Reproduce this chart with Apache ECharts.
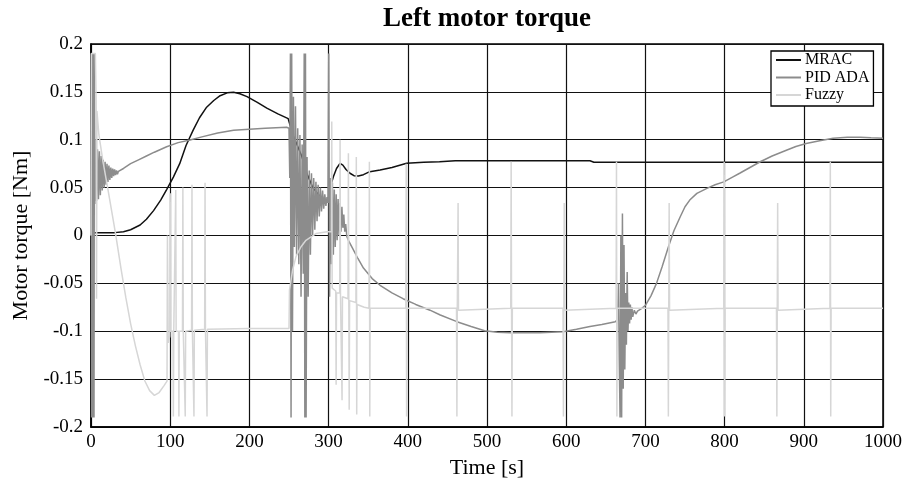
<!DOCTYPE html>
<html>
<head>
<meta charset="utf-8">
<script src="https://cdn.jsdelivr.net/npm/echarts@6/dist/echarts.min.js"></script>
<style>html,body{margin:0;padding:0;background:#fff;}#chart{width:915px;height:478px;}</style>
</head>
<body>
<div id="chart"></div>
<script>
const seriesNames = ['MRAC', 'PID ADA', 'Fuzzy'];

const mracData = [
[0,0.018],[0.8,-0.006],[1.5,0.003],[10,0.003],[30,0.003],[41,0.004],[50,0.006],[62,0.011],[70,0.017],[79,0.026],[88,0.037],[95.5,0.048],[104,0.061],[112,0.075],[120,0.094],[129,0.11],[137,0.123],[146,0.134],[155,0.141],[163,0.146],[172,0.149],[180,0.1495],[188,0.148],[197,0.145],[210,0.139],[222,0.133],[236,0.127],[249,0.122],[250,0.121],[255,0.105],[260,0.095],[266,0.083],[272,0.066],[280,0.05],[290,0.04],[299,0.035],[300.5,0.034],[302,0.05],[306,0.0614],[310,0.07],[314.4,0.0754],[318,0.0735],[322,0.069],[327,0.065],[332,0.0625],[337.5,0.0621],[344,0.0635],[352,0.0667],[365,0.0684],[380,0.071],[398.6,0.0754],[420,0.0765],[440,0.077],[460,0.078],[630,0.078],[635,0.0765],[1000,0.0765]
];

const pidData = [
[0,0.0],[0.4,0.19],[0.8,-0.19],[1.3,0.19],[1.8,-0.19],[2.3,0.19],[2.8,-0.19],[3.3,0.19],[3.8,-0.19],[4.3,0.19],[5,0.033],[6,0.1],[7,0.036],[8.2,0.09],[9.4,0.038],[10.6,0.088],[11.8,0.042],[13,0.083],[14.2,0.047],[15.4,0.079],[16.6,0.05],[17.8,0.077],[19,0.053],[20.2,0.075],[21.4,0.056],[22.6,0.073],[23.8,0.058],[25,0.071],[26.2,0.06],[27.4,0.07],[28.6,0.062],[29.8,0.069],[31,0.063],[32.2,0.068],[33.4,0.064],[34.6,0.067],[36,0.067],[41,0.07],[50,0.075],[60,0.079],[70,0.083],[80,0.087],[95.5,0.0927],[110,0.097],[125,0.0997],[140,0.103],[160,0.107],[180,0.11],[200,0.111],[220,0.112],[247,0.113],[250,0.112],
[251,0.06],[251.8,0.19],[252.6,-0.19],[253.4,0.19],[254.4,-0.1],[255.6,0.145],[256.8,-0.012],[258.2,0.135],[259.6,-0.02],[261,0.112],[262.4,-0.03],[263.8,0.105],[265.2,-0.064],[266.6,0.095],[268,-0.04],[269.2,0.19],[270,-0.19],[270.8,0.19],[271.6,-0.19],[272.8,0.082],[274.2,-0.064],[275.6,0.068],[277,-0.02],[278.4,0.065],[279.8,0.0],[281.2,0.06],[282.6,0.006],[284,0.056],[285.4,0.015],[286.8,0.053],[288.2,0.02],[289.6,0.05],[291,0.025],[292.4,0.047],[293.8,0.028],[295.2,0.043],[296.6,0.031],[298,0.04],[299.2,0.034],
[300.2,0.19],[301.2,-0.064],[302.4,0.06],[303.6,-0.03],[304.8,0.055],[306,-0.02],[307.2,0.048],[308.4,-0.012],[309.6,0.043],[310.8,-0.005],[312,0.038],[313.2,0.0],[314.4,0.034],[315.6,0.004],[316.8,0.03],[318,0.008],[319.2,0.022],[320.4,0.004],[321.6,0.012],[323,-0.001],[325,-0.005],[330,-0.013],[337,-0.024],[344,-0.034],[355,-0.045],[365,-0.052],[380,-0.06],[394,-0.066],[410,-0.072],[428,-0.078],[441,-0.083],[462,-0.09],[480,-0.095],[497,-0.0994],[513,-0.101],[529,-0.1015],[567,-0.1015],[596,-0.1005],[613,-0.098],[630,-0.095],[645,-0.093],[662,-0.09],
[665,-0.088],[666,-0.05],[667,-0.13],[668,-0.19],[669,0.0],[670,-0.19],[671,0.023],[672,-0.16],[673,-0.01],[674,-0.14],[675,-0.06],[676,-0.114],[677,-0.038],[678,-0.1],[679,-0.07],[680,-0.092],[681,-0.072],[682,-0.088],[683,-0.075],[684,-0.085],[686,-0.078],[688,-0.082],[690,-0.079],[694,-0.077],[697,-0.075],[700,-0.073],[707,-0.063],[714,-0.05],[721,-0.033],[729,-0.012],[736,0.005],[744,0.0196],[750,0.03],[756,0.037],[765,0.044],[777,0.049],[788,0.053],[799,0.056],[810,0.061],[819,0.065],[832,0.071],[845,0.077],[860,0.083],[878,0.089],[890,0.093],[903,0.096],[920,0.099],[937,0.1015],[955,0.1025],[971,0.1025],[985,0.102],[1000,0.1015]
];

const fuzzyData = [
[0,0.0],[0.5,0.19],[5.5,0.19],[6.5,0.14],[7,-0.066],[7.5,0.13],[10,0.105],[15,0.078],[21,0.05],[26,0.026],[31,0.002],[38,-0.035],[44,-0.065],[50,-0.092],[56,-0.115],[62,-0.135],[68,-0.152],[74,-0.162],[80,-0.167],[86,-0.164],[92,-0.157],[96,-0.152],
[96.5,0.0],[97.5,-0.112],[99.5,-0.105],[100,0.044],[100.5,-0.1],[103.5,-0.1],[104,-0.189],[104.5,-0.1],[106.5,-0.1],[107,0.0475],[107.5,-0.1],[110.5,-0.1],[111,-0.189],[111.5,-0.1],[115.5,-0.1],[116,0.05],[116.5,-0.1],[118.5,-0.1],[119,-0.189],[119.5,-0.1],[127,-0.099],[127.5,0.053],[128,-0.099],[129.5,-0.099],[130,-0.189],[130.5,-0.099],[143.5,-0.098],[144,0.055],[144.5,-0.098],[146,-0.098],[146.5,-0.189],[147,-0.098],[200,-0.097],[250,-0.097],
[250.6,-0.057],[254.6,-0.036],[258.8,-0.022],[265,-0.012],[271.4,-0.005],[284,0.002],[298,0.004],[303.5,0.004],[304,0.119],[304.5,-0.055],[309,-0.058],[309.5,-0.156],[310,-0.06],[314,-0.06],[314.5,0.1],[315,-0.062],[316.5,-0.062],[317,-0.172],[317.5,-0.064],[324.5,-0.066],[325,0.086],[325.5,-0.067],[326,-0.182],[326.5,-0.068],[334.5,-0.07],[335,0.082],[335.5,-0.187],[336,-0.072],[345,-0.075],[351,-0.076],[351.5,0.077],[352,-0.189],[352.5,-0.076],
[397.5,-0.076],[398,0.075],[398.5,-0.189],[399,-0.076],
[461.5,-0.076],[462,-0.189],[462.5,-0.076],[463.5,0.034],[464,-0.078],[465,-0.076],
[530,-0.076],[530.5,0.077],[531,-0.076],[531.5,-0.189],[532,-0.076],
[596,-0.076],[596.5,-0.189],[597,-0.076],[597.5,0.034],[598,-0.078],[599,-0.076],
[663,-0.076],[663.5,0.077],[664,-0.189],[664.5,-0.076],
[728.5,-0.076],[729,-0.189],[729.5,-0.076],[730,0.034],[730.5,-0.078],[731.5,-0.076],
[799,-0.076],[799.5,0.077],[800,-0.189],[800.5,-0.076],
[865.5,-0.076],[866,-0.189],[866.5,-0.076],[867,0.034],[867.5,-0.078],[868.5,-0.076],
[933,-0.076],[933.5,0.077],[934,-0.189],[934.5,-0.076],
[1000,-0.076]
];

const xTicks = {min: 0, max: 1000, interval: 100};
const yTicks = {min: -0.2, max: 0.2, interval: 0.05};

const font = 'Liberation Serif';
const chart = echarts.init(document.getElementById('chart'), null, {renderer: 'canvas'});
chart.setOption({
  animation: false,
  backgroundColor: '#fff',
  title: {
    text: 'Left motor torque',
    left: 487, top: 6, textAlign: 'center', padding: 0,
    textStyle: {fontFamily: font, fontSize: 27, fontWeight: 'bold', color: '#000'}
  },
  legend: {
    data: seriesNames,
    orient: 'vertical',
    left: 771, top: 51,
    padding: [1, 4, 3, 5],
    itemGap: 1.5,
    itemWidth: 25, itemHeight: 2,
    itemStyle: {borderWidth: 0},
    icon: 'rect',
    backgroundColor: '#fff',
    borderColor: '#000', borderWidth: 1.3,
    textStyle: {fontFamily: font, fontSize: 16, color: '#000', lineHeight: 16, padding: [0,0,0,-1]}
  },
  grid: {left: 91, right: 32, top: 44, bottom: 51, outerBoundsMode: 'none', containLabel: false, show: true, borderColor: '#000', borderWidth: 1.5, backgroundColor: 'transparent'},
  xAxis: {
    type: 'value', min: xTicks.min, max: xTicks.max, interval: xTicks.interval,
    name: 'Time [s]', nameLocation: 'middle', nameGap: 27,
    nameTextStyle: {fontFamily: font, fontSize: 22, color: '#000'},
    axisLine: {show: true, onZero: false, lineStyle: {color: '#000', width: 1.5}},
    axisTick: {show: false},
    axisLabel: {fontFamily: font, fontSize: 19, color: '#000', margin: 6,
      formatter: v => String(Math.round(v))},
    splitLine: {show: true, lineStyle: {color: '#111', width: 1.2}}
  },
  yAxis: {
    type: 'value', min: yTicks.min, max: yTicks.max, interval: yTicks.interval,
    name: 'Motor torque [Nm]', nameLocation: 'middle', nameGap: 56,
    nameTextStyle: {fontFamily: font, fontSize: 22, color: '#000'},
    axisLine: {show: true, onZero: false, lineStyle: {color: '#000', width: 1.5}},
    axisTick: {show: false},
    axisLabel: {fontFamily: font, fontSize: 19, color: '#000', margin: 8,
      formatter: v => String(parseFloat(v.toFixed(2)))},
    splitLine: {show: true, lineStyle: {color: '#111', width: 1.2}}
  },
  series: [
    {name: seriesNames[0], type: 'line', data: mracData, showSymbol: false, symbol: 'none', lineStyle: {color: '#111', width: 1.5}, itemStyle: {color: '#111'}},
    {name: seriesNames[1], type: 'line', data: pidData, showSymbol: false, symbol: 'none', lineStyle: {color: '#8c8c8c', width: 1.5}, itemStyle: {color: '#8c8c8c'}},
    {name: seriesNames[2], type: 'line', data: fuzzyData, showSymbol: false, symbol: 'none', lineStyle: {color: '#d6d6d6', width: 1.5}, itemStyle: {color: '#d6d6d6'}}
  ]
});
</script>
</body>
</html>
